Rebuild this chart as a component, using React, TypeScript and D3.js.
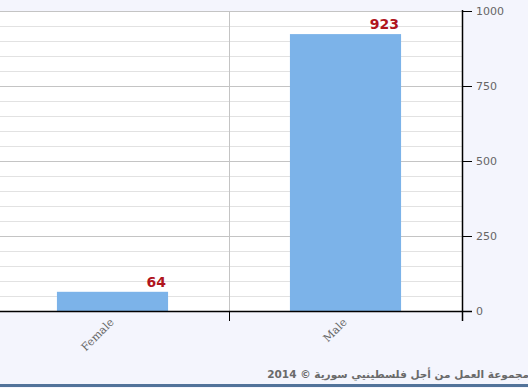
import React from "react";
import * as d3 from "d3";

const categories = ["Female", "Male"];
const values = [64, 923];
const yTicks = [0, 250, 500, 750, 1000];
const footer = "مجموعة العمل من أجل فلسطينيي سورية © 2014";

const W = 528;
const H = 388;

export default function App() {
  const y = d3.scaleLinear().domain([0, 1000]).range([311, 11]);
  const x = d3.scaleBand<string>().domain(categories).range([-4, 462]).paddingInner(0).paddingOuter(0);
  const barW = x.bandwidth() * 0.477;
  const minor = d3.range(0, 1001, 50);
  const plotLeft = 0;
  const plotRight = 462;

  return (
    <svg width={W} height={H} style={{ position: "absolute", left: 0, top: 0, display: "block" }}>
      <rect x={0} y={0} width={W} height={H} fill="#f4f5fd" />
      <rect x={plotLeft} y={y(1000)} width={plotRight - plotLeft} height={y(0) - y(1000)} fill="#ffffff" />
      {minor.map((v) => (
        <line key={"m" + v} x1={plotLeft} x2={plotRight} y1={Math.round(y(v)) + 0.5} y2={Math.round(y(v)) + 0.5}
          stroke={v % 250 === 0 ? "#c4c4c4" : "#e2e2e2"} strokeWidth={1} />
      ))}
      {categories.slice(1).map((c) => (
        <line key={"v" + c} x1={Math.round(x(c)!) + 0.5} x2={Math.round(x(c)!) + 0.5} y1={y(1000)} y2={y(0)} stroke="#c4c4c4" />
      ))}
      {categories.map((c, i) => {
        const cx = x(c)! + x.bandwidth() / 2;
        return (
          <rect key={c} x={cx - barW / 2} y={y(values[i])} width={barW} height={y(0) - y(values[i])} fill="#7cb3e9" />
        );
      })}
      {categories.map((c, i) => {
        const cx = x(c)! + x.bandwidth() / 2;
        return (
          <text key={"l" + c} x={cx + barW / 2 - 2} y={y(values[i]) - 5} textAnchor="end"
            fontFamily="DejaVu Sans" fontWeight="bold" fontSize={14} fill="#b0151d">
            {values[i]}
          </text>
        );
      })}
      {/* x axis */}
      <line x1={0} x2={472} y1={311.5} y2={311.5} stroke="#000" strokeWidth={1.5} />
      {categories.slice(1).map((c) => (
        <line key={"t" + c} x1={Math.round(x(c)!) + 0.5} x2={Math.round(x(c)!) + 0.5} y1={311} y2={321} stroke="#000" />
      ))}
      {categories.map((c) => {
        const cx = x(c)! + x.bandwidth() / 2;
        return (
          <text key={"x" + c} transform={`translate(${cx + 2},${323}) rotate(-45)`} textAnchor="end"
            fontFamily="DejaVu Serif" fontSize={11} fill="#666">
            {c}
          </text>
        );
      })}
      {/* y axis right */}
      <line x1={462.5} x2={462.5} y1={10} y2={321} stroke="#000" strokeWidth={1.5} />
      {yTicks.map((t) => (
        <g key={"y" + t}>
          <line x1={462} x2={472} y1={Math.round(y(t)) + 0.5} y2={Math.round(y(t)) + 0.5} stroke="#000" />
          <text x={476} y={y(t) + 4} fontFamily="DejaVu Sans" fontSize={11} fill="#666">{t}</text>
        </g>
      ))}
      <text x={529} y={378} textAnchor="start" direction="rtl" fontFamily="DejaVu Sans" fontWeight="bold" fontSize={10.5} fill="#6a6a6a">
        {footer}
      </text>
      <rect x={0} y={384} width={W} height={3} fill="#52739a" />
    </svg>
  );
}
